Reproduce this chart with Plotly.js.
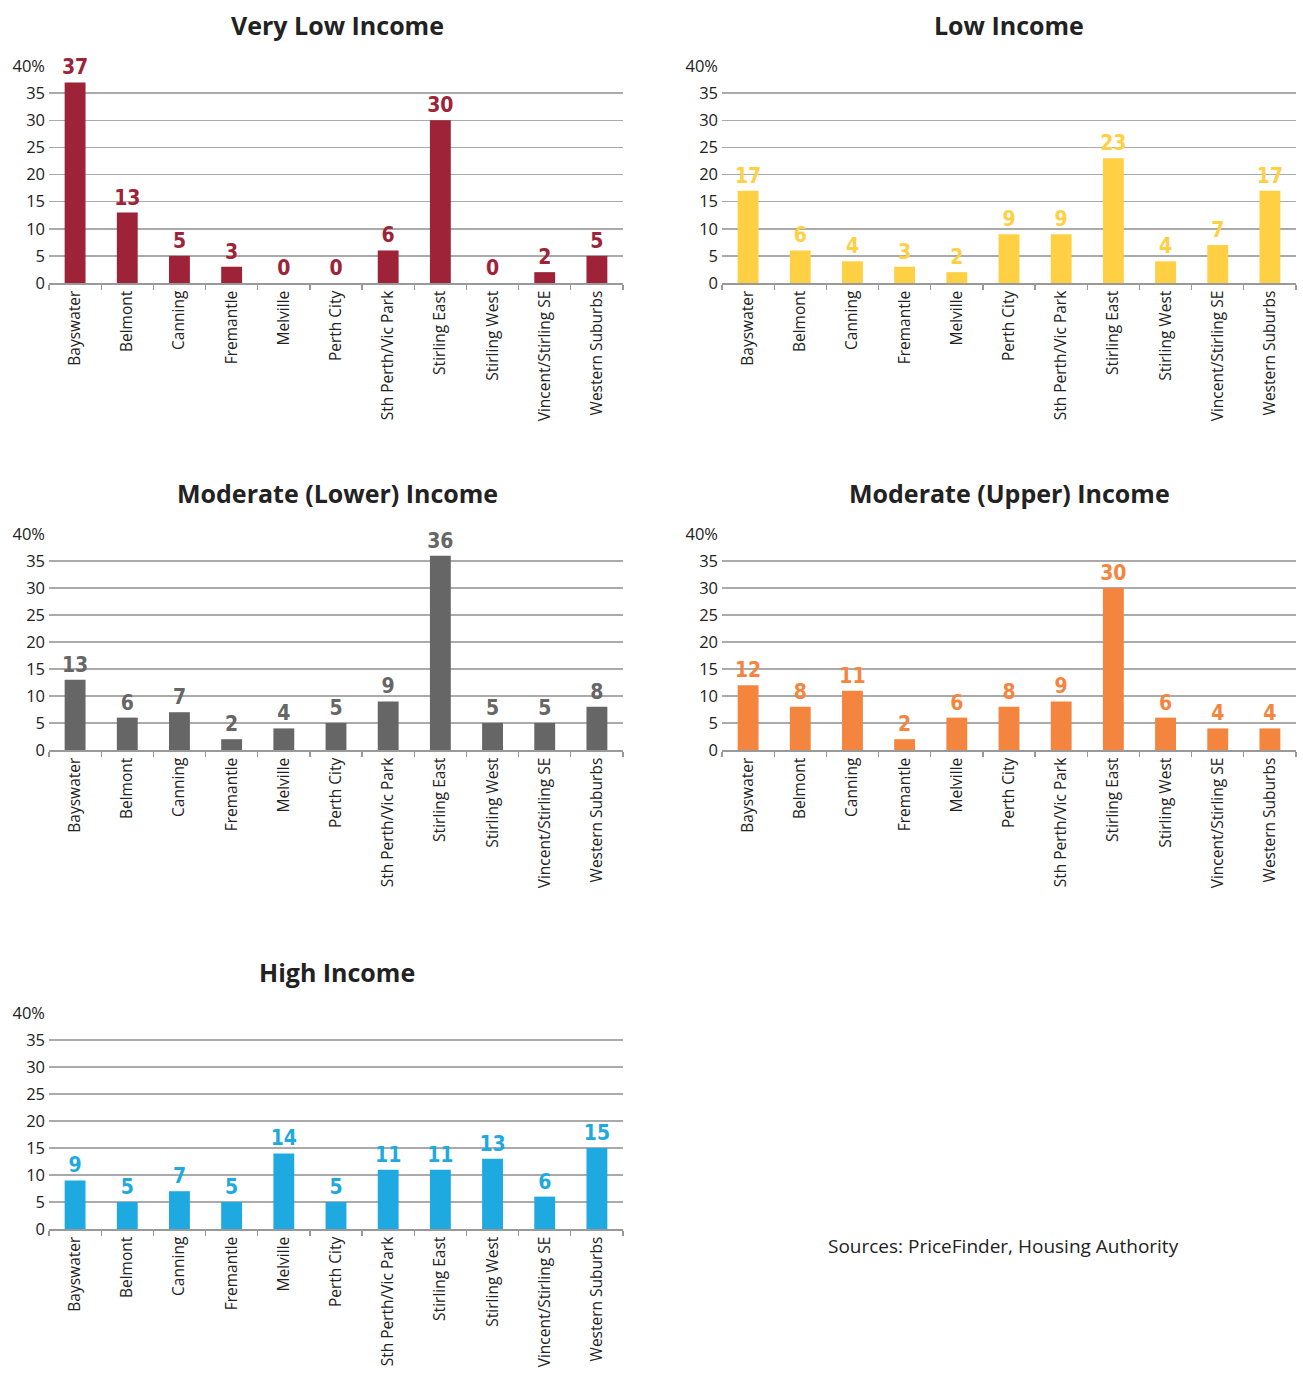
<!DOCTYPE html>
<html>
<head>
<meta charset="utf-8">
<script src="https://cdn.plot.ly/plotly-3.0.1.min.js"></script>
<style>
  html, body { margin: 0; padding: 0; background: #fff; }
  #chart { width: 1303px; height: 1378px; }
</style>
</head>
<body>
<div id="chart"></div>
<script>
// Housing affordability by region, share (%) of sales affordable to each income band
const regions = [
  "Bayswater", "Belmont", "Canning", "Fremantle", "Melville", "Perth City",
  "Sth Perth/Vic Park", "Stirling East", "Stirling West", "Vincent/Stirling SE",
  "Western Suburbs"
];

const veryLowIncome      = [37, 13, 5, 3, 0, 0, 6, 30, 0, 2, 5];
const lowIncome          = [17, 6, 4, 3, 2, 9, 9, 23, 4, 7, 17];
const moderateLowerIncome = [13, 6, 7, 2, 4, 5, 9, 36, 5, 5, 8];
const moderateUpperIncome = [12, 8, 11, 2, 6, 8, 9, 30, 6, 4, 4];
const highIncome         = [9, 5, 7, 5, 14, 5, 11, 11, 13, 6, 15];

const yTickVals = [0, 5, 10, 15, 20, 25, 30, 35, 40];
const yTickText = ["0", "5", "10", "15", "20", "25", "30", "35", "40%"];

const panelTitles = [
  "Very Low Income", "Low Income", "Moderate (Lower) Income",
  "Moderate (Upper) Income", "High Income"
];
const sourceNote = "Sources: PriceFinder, Housing Authority";

const W = 1303, H = 1378;
const FONT = "'Open Sans', 'Noto Sans', sans-serif";
const VALUE_FONT = "'Liberation Sans Narrow', 'DejaVu Sans Condensed', 'Open Sans', sans-serif";

// panel placement in pixels: [left, right, top, bottom]
const panels = [
  { data: veryLowIncome,       color: "#9e2338", box: [49, 623, 66, 283] },
  { data: lowIncome,           color: "#ffcf44", box: [722, 1296, 66, 283] },
  { data: moderateLowerIncome, color: "#666666", box: [49, 623, 534, 750] },
  { data: moderateUpperIncome, color: "#f4853f", box: [722, 1296, 534, 750] },
  { data: highIncome,          color: "#1fa9e1", box: [49, 623, 1013, 1229] }
];

const traces = [];
const layout = {
  width: W, height: H,
  margin: { l: 0, r: 0, t: 0, b: 0 },
  paper_bgcolor: "#fff",
  plot_bgcolor: "rgba(0,0,0,0)",
  showlegend: false,
  font: { family: FONT, color: "#333" },
  annotations: []
};

panels.forEach((p, i) => {
  const n = i === 0 ? "" : String(i + 1);
  const [l, r, t, b] = p.box;
  traces.push({
    type: "bar",
    x: regions,
    y: p.data,
    xaxis: "x" + n,
    yaxis: "y" + n,
    marker: { color: p.color },
    width: 0.4,
    text: p.data.map(String),
    textposition: "outside",
    constraintext: "none",
    cliponaxis: false,
    textfont: { family: VALUE_FONT, size: 21, color: p.color, weight: "bold" },
    hoverinfo: "x+y"
  });
  layout["xaxis" + n] = {
    domain: [l / W, r / W],
    anchor: "y" + n,
    type: "category",
    tickson: "boundaries",
    ticks: "outside",
    ticklen: 5,
    tickcolor: "#999",
    tickwidth: 1.2,
    showgrid: false,
    showline: true,
    linecolor: "#999",
    linewidth: 1.5,
    tickangle: -90,
    tickfont: { family: FONT, size: 15.5, color: "#222" },
    fixedrange: true
  };
  layout["yaxis" + n] = {
    domain: [1 - b / H, 1 - t / H],
    anchor: "x" + n,
    range: [0, 40.02],
    tickvals: yTickVals,
    ticktext: yTickText,
    showgrid: true,
    gridcolor: "#aaaaaa",
    gridwidth: 1.5,
    zeroline: false,
    showline: false,
    ticks: "",
    ticklabelstandoff: 3,
    tickfont: { family: FONT, size: 16.5, color: "#222" },
    fixedrange: true
  };
  layout.annotations.push({
    text: "<b>" + panelTitles[i] + "</b>",
    xref: "paper", yref: "paper",
    x: (i % 2 === 0 ? 337 : 1009) / W,
    y: 1 - (t - 41) / H,
    xanchor: "center", yanchor: "middle",
    showarrow: false,
    font: { family: FONT, size: 25, color: "#222" }
  });
});

layout.annotations.push({
  text: sourceNote,
  xref: "paper", yref: "paper",
  x: 1003 / W, y: 1 - 1246 / H,
  xanchor: "center", yanchor: "middle",
  showarrow: false,
  font: { family: FONT, size: 19, color: "#222" }
});

Plotly.newPlot("chart", traces, layout, { displayModeBar: false, staticPlot: true });
</script>
</body>
</html>
